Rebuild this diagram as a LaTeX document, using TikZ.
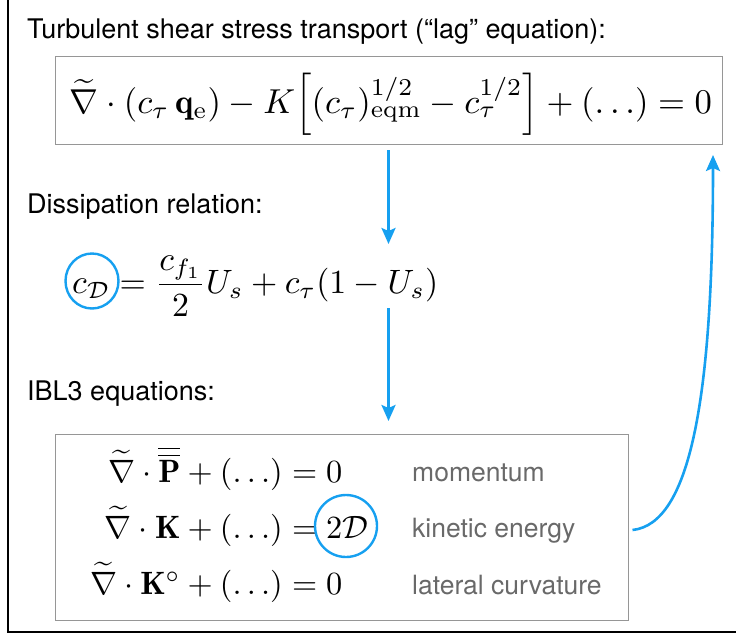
\RequirePackage{fix-cm}
\documentclass[tikz,border=0pt]{standalone}
\usepackage{amsmath}
\usepackage{graphicx}
\usepackage{fontspec}
\newfontfamily\labelfont{TeX Gyre Heros}
\usetikzlibrary{arrows.meta,shapes.geometric}
\definecolor{arrowblue}{RGB}{22,160,240}
\definecolor{boxgray}{RGB}{150,150,150}
\definecolor{labelgray}{RGB}{105,105,105}
\newsavebox\lineThreeBox
\tikzset{
  heading/.style={anchor=base west,inner sep=0pt,font=\labelfont\fontsize{27}{31}\selectfont},
  eqbox/.style={draw=boxgray,line width=1pt,inner sep=0pt},
  plainmath/.style={inner sep=0pt},
  rowlabel/.style={anchor=base west,inner sep=0pt,text=labelgray,font=\labelfont\fontsize{26.5}{31}\selectfont},
  flow/.style={draw=arrowblue,line width=2.6pt,-{Stealth[length=16pt,width=14pt,inset=3pt]}},
  ring/.style={draw=arrowblue,line width=2.4pt,ellipse,inner sep=0pt},
}
\begin{document}
\begin{tikzpicture}[x=1pt,y=-1pt]
\sbox\lineThreeBox{$\widetilde{\nabla}\cdot\mathbf{K}^{\circ} + (\ldots) = 0$}
\pgfmathsetmacro\sthree{252/\the\wd\lineThreeBox}
\useasboundingbox (0,0) rectangle (736,642);
% outer frame
\draw[line width=2pt] (8,-2) |- (738,632);
% headings
\node[heading] (h1) at (27,39) {Turbulent shear stress transport (“lag” equation):};
\node[heading] (h2) at (27,213) {Dissipation relation:};
\node[heading] (h3) at (27,400) {IBL3 equations:};
% box 1
\node[eqbox,minimum width=667pt,minimum height=88pt] (box1) at (388.5,100.5) {};
\node[plainmath,anchor=base] (eq1) at (391,113)
  {\resizebox{642pt}{!}{$\widetilde{\nabla}\cdot(c_\tau\,\mathbf{q}_{\mathrm{e}}) - K\Bigl[(c_\tau)^{1/2}_{\mathrm{eqm}} - c_\tau^{1/2}\Bigr] + (\ldots) = 0$}};
% dissipation relation
\node[plainmath,anchor=base west] (eq2) at (72,293)
  {\resizebox{366pt}{!}{$c_{\mathcal{D}} = \dfrac{c_{f_1}}{2}U_s + c_\tau(1-U_s)$}};
\node[ring,minimum width=53pt,minimum height=55pt] (cDring) at (92,281) {};
% box 3
\node[eqbox,minimum width=573pt,minimum height=186pt] (box3) at (341.5,527) {};
\node[plainmath,anchor=base east] (l1) at (283,482) {\scalebox{\sthree}{$\widetilde{\nabla}\cdot\overline{\overline{\mathbf{P}}} + (\ldots)$}};
\node[plainmath,anchor=base west] (r1) at (283,482) {\scalebox{\sthree}{${}=0$}};
\node[plainmath,anchor=base east] (l2) at (283,538) {\scalebox{\sthree}{$\widetilde{\nabla}\cdot\mathbf{K} + (\ldots)$}};
\node[plainmath,anchor=base west] (r2) at (283,538) {\scalebox{\sthree}{${}= 2\mathcal{D}$}};
\node[plainmath,anchor=base east] (l3) at (283,594) {\scalebox{\sthree}{$\widetilde{\nabla}\cdot\mathbf{K}^{\circ} + (\ldots)$}};
\node[plainmath,anchor=base west] (r3) at (283,594) {\scalebox{\sthree}{${}=0$}};
\node[ring,minimum width=62pt,minimum height=62pt] (twoDring) at (346,526) {};
\node[rowlabel] (m1) at (412,481) {momentum};
\node[rowlabel] (m2) at (412,537) {kinetic energy};
\node[rowlabel] (m3) at (412,594) {lateral curvature};
% arrows
\coordinate (a1s) at (388.5,150);
\coordinate (a1e) at (388.5,244);
\coordinate (a2s) at (388.5,308);
\coordinate (a2e) at (388.5,421);
\draw[flow] (a1s) -- (a1e);
\draw[flow] (a2s) -- (a2e);
\coordinate (c0) at ([xshift=4pt,yshift=-3pt]box3.east);
\coordinate (c1) at (713,155);
\draw[flow] (c0) .. controls (690,524) and (713,400) .. (c1);
\end{tikzpicture}
\end{document}
